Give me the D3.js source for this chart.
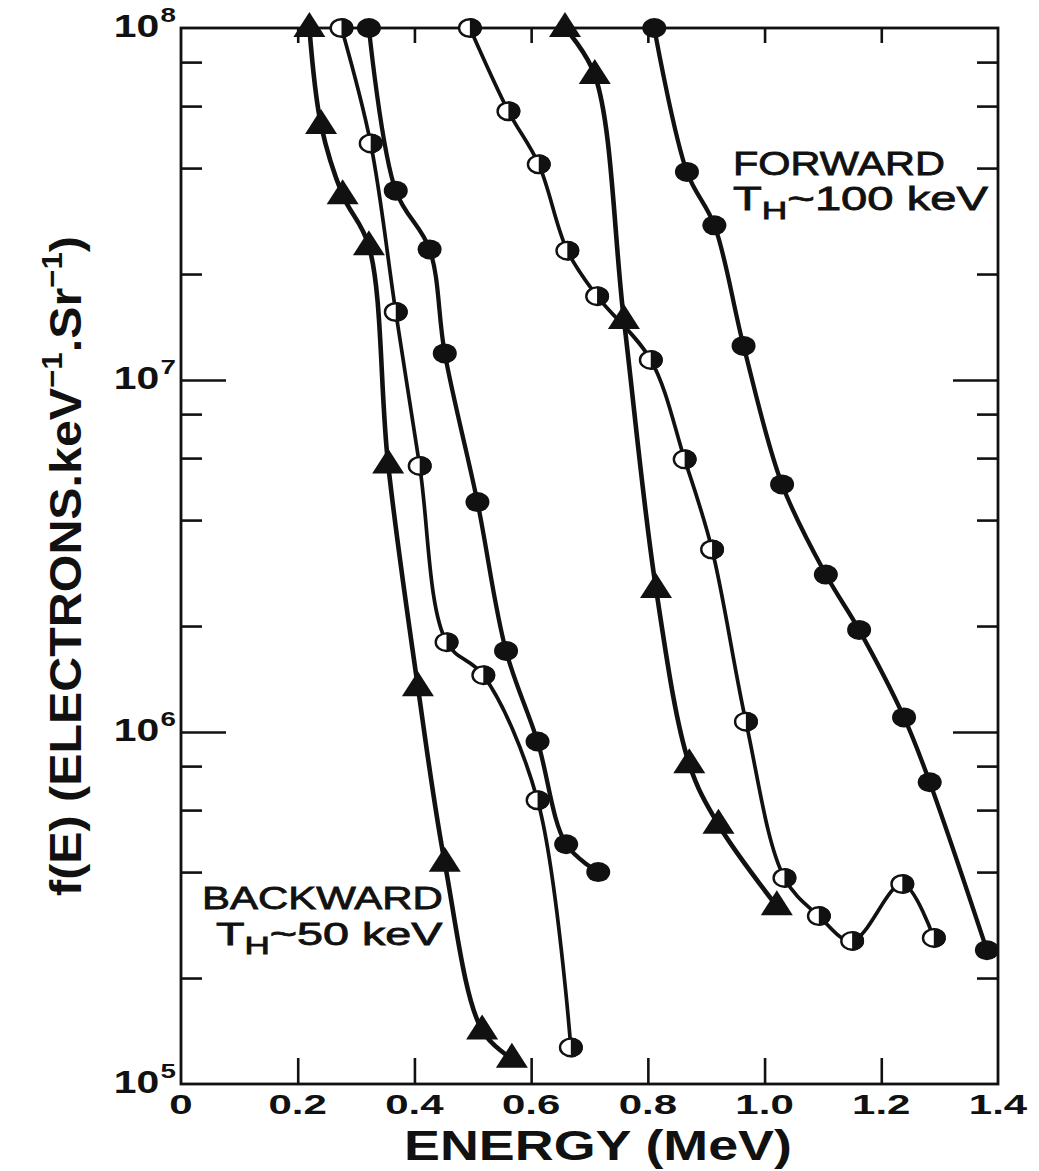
<!DOCTYPE html>
<html>
<head>
<meta charset="utf-8">
<script src="https://cdn.jsdelivr.net/npm/d3@7"></script>
<style>
  html, body { margin: 0; padding: 0; background: #fff; }
  svg { display: block; }
  text { font-family: "Liberation Sans", Arial, Helvetica, sans-serif; fill: #111; }
</style>
</head>
<body>
<svg id="chart" width="1039" height="1171"></svg>
<script>
// Hot-electron energy spectra f(E), backward and forward directions.

// Backward, triangles
const backTriEnergy = [0.22, 0.24, 0.277, 0.322, 0.355, 0.406, 0.452, 0.516, 0.567];
const backTriValue  = [1e8, 5.3e7, 3.35e7, 2.4e7, 5.75e6, 1.34e6, 4.25e5, 1.42e5, 1.18e5];
// Backward, half-filled circles
const backHalfEnergy = [0.275, 0.325, 0.368, 0.409, 0.455, 0.518, 0.611, 0.668];
const backHalfValue  = [1e8, 4.7e7, 1.56e7, 5.7e6, 1.8e6, 1.45e6, 6.4e5, 1.27e5];
// Backward, filled circles
const backDotEnergy = [0.322, 0.368, 0.426, 0.452, 0.508, 0.557, 0.611, 0.66, 0.715];
const backDotValue  = [1e8, 3.45e7, 2.35e7, 1.19e7, 4.5e6, 1.7e6, 9.4e5, 4.8e5, 4.0e5];
// Forward, half-filled circles
const fwdHalfEnergy = [0.495, 0.561, 0.613, 0.662, 0.713, 0.805, 0.863, 0.91, 0.968, 1.034, 1.093, 1.15, 1.236, 1.29];
const fwdHalfValue  = [1e8, 5.8e7, 4.1e7, 2.33e7, 1.73e7, 1.14e7, 5.95e6, 3.3e6, 1.07e6, 3.85e5, 3.0e5, 2.55e5, 3.7e5, 2.6e5];
// Forward, triangles
const fwdTriEnergy = [0.658, 0.709, 0.759, 0.814, 0.871, 0.921, 1.021];
const fwdTriValue  = [1e8, 7.35e7, 1.48e7, 2.55e6, 8.1e5, 5.45e5, 3.2e5];
// Forward, filled circles
const fwdDotEnergy = [0.811, 0.867, 0.914, 0.964, 1.03, 1.105, 1.162, 1.239, 1.283, 1.381];
const fwdDotValue  = [1e8, 3.9e7, 2.75e7, 1.25e7, 5.05e6, 2.8e6, 1.95e6, 1.1e6, 7.2e5, 2.4e5];

// Axis ticks and labels
const xTickValues = [0, 0.2, 0.4, 0.6, 0.8, 1.0, 1.2, 1.4];
const xTickLabels = ["0", "0.2", "0.4", "0.6", "0.8", "1.0", "1.2", "1.4"];
const xInnerTicks = [0.2, 0.4, 0.6, 0.8, 1.0, 1.2];
const yDecades = [1e5, 1e6, 1e7, 1e8];
const yExponents = ["5", "6", "7", "8"];
const yMajorInner = [1e6, 1e7];
const yMinorMultipliers = [2, 4, 6, 8];

const ink = "#111";
const plot = { left: 181, right: 998, top: 28, bottom: 1084 };

const svg = d3.select("#chart");
const x = d3.scaleLinear().domain([0, 1.4]).range([plot.left, plot.right]);
const y = d3.scaleLog().domain([1e5, 1e8]).range([plot.bottom, plot.top]);

// Stretch a text horizontally (in its own frame) to a given width
function fitWidth(sel, width, base) {
  const w = sel.node().getBBox().width;
  sel.attr("transform", `${base} scale(${width / w},1)`);
}

// Frame
svg.append("rect")
  .attr("x", plot.left).attr("y", plot.top)
  .attr("width", plot.right - plot.left).attr("height", plot.bottom - plot.top)
  .attr("fill", "none").attr("stroke", ink).attr("stroke-width", 2.8);

function styleTicks(g) {
  g.select(".domain").remove();
  g.selectAll("line").attr("stroke", ink).attr("stroke-width", 2.6);
}

// Inward ticks on all four sides
svg.append("g").attr("transform", `translate(0,${plot.bottom})`)
  .call(d3.axisBottom(x).tickValues(xInnerTicks).tickSize(-26).tickFormat(""))
  .call(styleTicks);
svg.append("g").attr("transform", `translate(0,${plot.top})`)
  .call(d3.axisTop(x).tickValues(xInnerTicks).tickSize(-15).tickFormat(""))
  .call(styleTicks);

const yMinor = yDecades.slice(0, 3).flatMap(d => yMinorMultipliers.map(m => m * d));
[[plot.left, d3.axisLeft], [plot.right, d3.axisRight]].forEach(([px, axisFn]) => {
  svg.append("g").attr("transform", `translate(${px},0)`)
    .call(axisFn(y).tickValues(yMinor).tickSize(-21).tickFormat(""))
    .call(styleTicks);
  svg.append("g").attr("transform", `translate(${px},0)`)
    .call(axisFn(y).tickValues(yMajorInner).tickSize(-45).tickFormat(""))
    .call(styleTicks);
});

// X tick labels
xTickValues.forEach((v, i) => {
  svg.append("text")
    .attr("text-anchor", "middle")
    .attr("font-size", 28).attr("font-weight", "bold")
    .attr("transform", `translate(${x(v)},1114) scale(1.5,1)`)
    .text(xTickLabels[i]);
});

// Y tick labels: 10 with superscript exponent
yDecades.forEach((v, i) => {
  const t = svg.append("text")
    .attr("text-anchor", "end")
    .attr("font-size", 31).attr("font-weight", "bold")
    .attr("transform", `translate(176,${y(v) + 9}) scale(1.32,1)`);
  t.append("tspan").text("10");
  t.append("tspan").attr("dy", -15).attr("dx", 1).attr("font-size", 21).text(yExponents[i]);
});

// Axis titles
const xTitle = svg.append("text")
  .attr("text-anchor", "middle")
  .attr("font-size", 42).attr("font-weight", "bold")
  .text("ENERGY (MeV)");
fitWidth(xTitle, 388, "translate(598,1160)");

const yTitle = svg.append("text")
  .attr("text-anchor", "middle")
  .attr("font-size", 45).attr("font-weight", "bold");
yTitle.append("tspan").text("f(E) (ELECTRONS.keV");
yTitle.append("tspan").attr("dy", -19).attr("font-size", 29).text("\u22121");
yTitle.append("tspan").attr("dy", 19).text(".Sr");
yTitle.append("tspan").attr("dy", -19).attr("font-size", 29).text("\u22121");
yTitle.append("tspan").attr("dy", 19).text(")");
fitWidth(yTitle, 660, "translate(81,566) rotate(-90)");

// Annotations
function annotation(lines, left, baselines, widths, size) {
  const head = svg.append("text").attr("font-size", size)
    .attr("stroke", ink).attr("stroke-width", 0.8).text(lines[0]);
  fitWidth(head, widths[0], `translate(${left[0]},${baselines[0]})`);
  const sub = svg.append("text").attr("font-size", size)
    .attr("stroke", ink).attr("stroke-width", 0.8);
  sub.append("tspan").text("T");
  sub.append("tspan").attr("dy", 9).attr("font-size", size * 0.75).text("H");
  sub.append("tspan").attr("dy", -9).text(lines[1]);
  fitWidth(sub, widths[1], `translate(${left[1]},${baselines[1]})`);
}
annotation(["FORWARD", "~100 keV"], [733, 733], [175, 210], [212, 255], 33);
annotation(["BACKWARD", "~50 keV"], [202, 216], [909, 945], [241, 227], 31);

// Curves and markers
const series = [
  { e: backTriEnergy,  f: backTriValue,  mark: "tri",  width: 4.6 },
  { e: backHalfEnergy, f: backHalfValue, mark: "half", width: 3.7 },
  { e: backDotEnergy,  f: backDotValue,  mark: "dot",  width: 4.3 },
  { e: fwdHalfEnergy,  f: fwdHalfValue,  mark: "half", width: 3.7 },
  { e: fwdTriEnergy,   f: fwdTriValue,   mark: "tri",  width: 4.6 },
  { e: fwdDotEnergy,   f: fwdDotValue,   mark: "dot",  width: 4.3 }
];

const line = d3.line()
  .x(d => x(d[0])).y(d => y(d[1]))
  .curve(d3.curveCatmullRom.alpha(0.5));

series.forEach(s => {
  const pts = s.e.map((e, i) => [e, s.f[i]]);
  svg.append("path").datum(pts)
    .attr("d", line)
    .attr("fill", "none").attr("stroke", ink)
    .attr("stroke-width", s.width).attr("stroke-linejoin", "round");
});

const rx = 12, ry = 10;
series.forEach(s => {
  const g = svg.append("g");
  s.e.forEach((e, i) => {
    const m = g.append("g").attr("transform", `translate(${x(e)},${y(s.f[i])})`);
    if (s.mark === "dot") {
      m.append("ellipse").attr("rx", rx).attr("ry", ry).attr("fill", ink);
    } else if (s.mark === "half") {
      m.append("ellipse").attr("rx", rx - 1.2).attr("ry", ry - 1.2)
        .attr("fill", "#fff").attr("stroke", ink).attr("stroke-width", 2.4);
      m.append("path")
        .attr("d", `M0,${-ry} A${rx},${ry} 0 0 1 0,${ry} Z`)
        .attr("fill", ink);
    } else {
      m.append("path").attr("d", "M0,-16 L16,9 L-16,9 Z").attr("fill", ink);
    }
  });
});
</script>
</body>
</html>
